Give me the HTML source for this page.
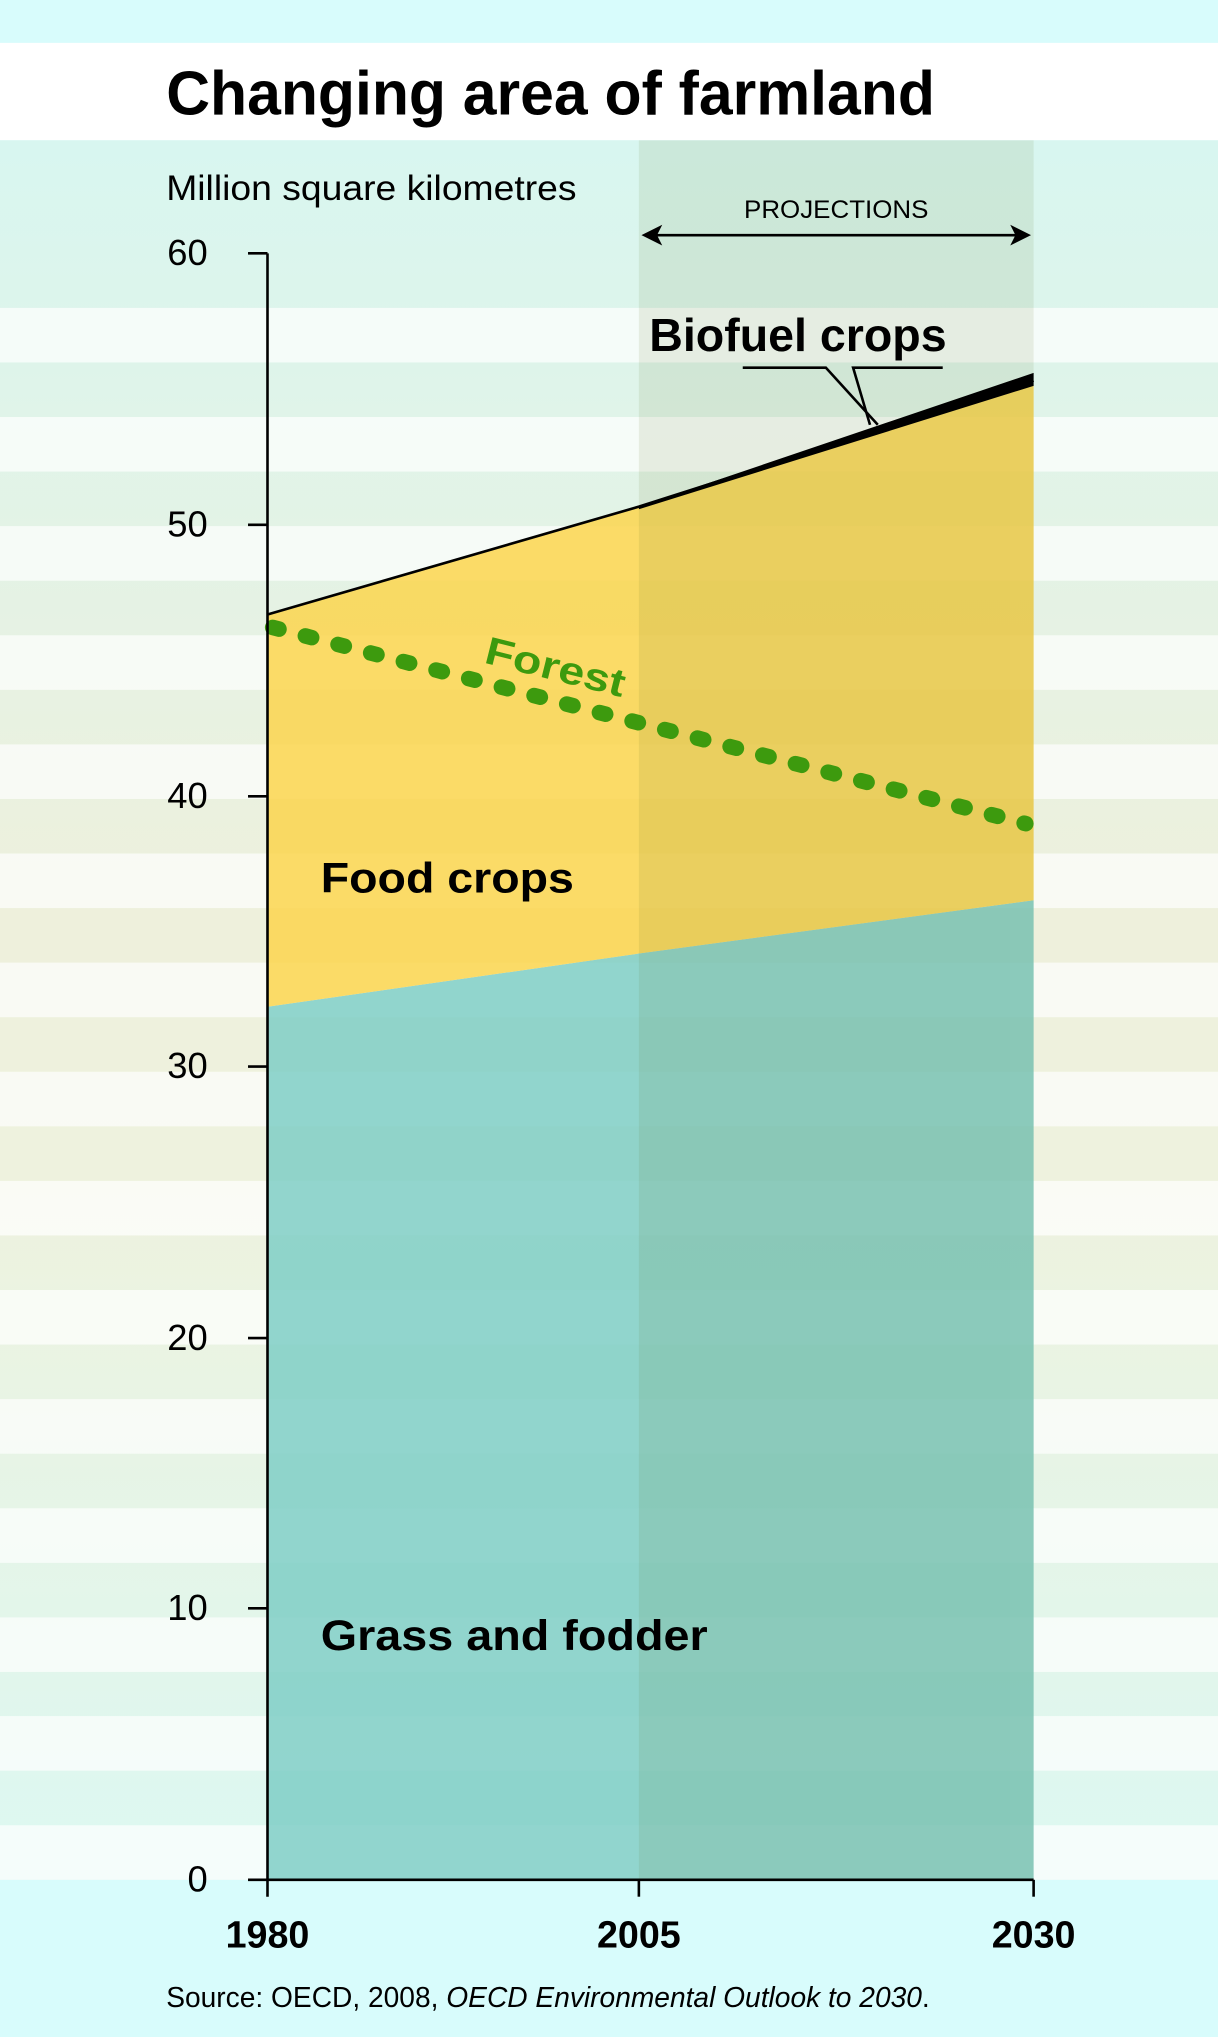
<!DOCTYPE html>
<html><head><meta charset="utf-8"><style>html,body{margin:0;padding:0;background:#d8fcfc}svg{display:block}text{font-family:"Liberation Sans",Arial,sans-serif}</style></head>
<body>
<svg width="1218" height="2037" viewBox="0 0 938 1568" xmlns="http://www.w3.org/2000/svg" preserveAspectRatio="none">
<defs>
<linearGradient id="bg" x1="0" y1="108" x2="0" y2="1447" gradientUnits="userSpaceOnUse">
<stop offset="0" stop-color="#d8f6f0"/>
<stop offset="0.45" stop-color="#eef0dc"/>
<stop offset="0.6" stop-color="#eef2de"/>
<stop offset="1" stop-color="#dcf8f2"/>
</linearGradient>
</defs>
<rect width="938" height="1568" fill="#d8fcfc"/>
<rect y="33" width="938" height="75" fill="#ffffff"/>
<rect y="108" width="938" height="1339" fill="url(#bg)"/>
<g fill="#ffffff" opacity="0.7">
<rect y="237" width="938" height="42"/><rect y="321" width="938" height="42"/><rect y="405" width="938" height="42"/><rect y="489" width="938" height="42"/><rect y="573" width="938" height="42"/><rect y="657" width="938" height="42"/><rect y="741" width="938" height="42"/><rect y="825" width="938" height="42"/><rect y="909" width="938" height="42"/><rect y="993" width="938" height="42"/><rect y="1077" width="938" height="42"/><rect y="1161" width="938" height="42"/><rect y="1245" width="938" height="42"/><rect y="1321" width="938" height="42"/><rect y="1405" width="938" height="42"/>
</g>
<polygon points="206,775 492,734 796,693 796,1447 206,1447" fill="#7fcec6" opacity="0.85"/>
<polygon points="206,473 492,390 796,296 796,693 492,734 206,775" fill="#fcd54e" opacity="0.85"/>
<rect x="492" y="108" width="304" height="1339" fill="#5a6a20" opacity="0.1"/>
<polyline points="206,473 492,390 796,293" fill="none" stroke="#000" stroke-width="2"/>
<polygon points="492,390 796,287 796,297 492,392" fill="#000"/>
<line x1="210" y1="483" x2="790" y2="634" stroke="#3d9a0e" stroke-width="12" stroke-linecap="round" stroke-dasharray="5 21"/>
<line x1="206" y1="195" x2="206" y2="1460" stroke="#000" stroke-width="2"/>
<line x1="191" y1="1447" x2="796" y2="1447" stroke="#000" stroke-width="2"/>
<g stroke="#000" stroke-width="2">
<line x1="191" y1="195" x2="206" y2="195"/><line x1="191" y1="404" x2="206" y2="404"/><line x1="191" y1="613" x2="206" y2="613"/><line x1="191" y1="821" x2="206" y2="821"/><line x1="191" y1="1030" x2="206" y2="1030"/><line x1="191" y1="1238" x2="206" y2="1238"/>
<line x1="492" y1="1447" x2="492" y2="1460"/><line x1="796" y1="1447" x2="796" y2="1460"/>
</g>
<g font-size="28" text-anchor="end" fill="#000">
<text x="160" y="204">60</text><text x="160" y="413">50</text><text x="160" y="622">40</text><text x="160" y="830">30</text><text x="160" y="1039">20</text><text x="160" y="1247">10</text><text x="160" y="1456">0</text>
</g>
<g font-size="29" font-weight="bold" text-anchor="middle">
<text x="206" y="1499">1980</text><text x="492" y="1499">2005</text><text x="796" y="1499">2030</text>
</g>
<text x="128" y="88" font-size="48" font-weight="bold" textLength="592" lengthAdjust="spacingAndGlyphs">Changing area of farmland</text>
<text x="128" y="154" font-size="27" textLength="316" lengthAdjust="spacingAndGlyphs">Million square kilometres</text>
<text x="644" y="168" font-size="19" text-anchor="middle" textLength="142" lengthAdjust="spacingAndGlyphs">PROJECTIONS</text>
<line x1="500" y1="181" x2="788" y2="181" stroke="#000" stroke-width="2"/>
<polygon points="494,181 510,173 506,181 510,189" fill="#000"/>
<polygon points="794,181 778,173 782,181 778,189" fill="#000"/>
<text x="500" y="270" font-size="36" font-weight="bold" textLength="229" lengthAdjust="spacingAndGlyphs">Biofuel crops</text>
<polyline points="572,283 636,283 676,327" fill="none" stroke="#000" stroke-width="2"/>
<polyline points="726,283 657,283 670,327" fill="none" stroke="#000" stroke-width="2"/>
<text x="372" y="510" font-size="30" font-weight="bold" fill="#3d9a0e" transform="rotate(14 372 510)" textLength="110" lengthAdjust="spacingAndGlyphs">Forest</text>
<text x="247" y="687" font-size="33" font-weight="bold" textLength="195" lengthAdjust="spacingAndGlyphs">Food crops</text>
<text x="247" y="1270" font-size="33" font-weight="bold" textLength="298" lengthAdjust="spacingAndGlyphs">Grass and fodder</text>
<text x="128" y="1545" font-size="22" textLength="588" lengthAdjust="spacingAndGlyphs">Source: OECD, 2008, <tspan font-style="italic">OECD Environmental Outlook to 2030</tspan>.</text>
</svg>
</body></html>
